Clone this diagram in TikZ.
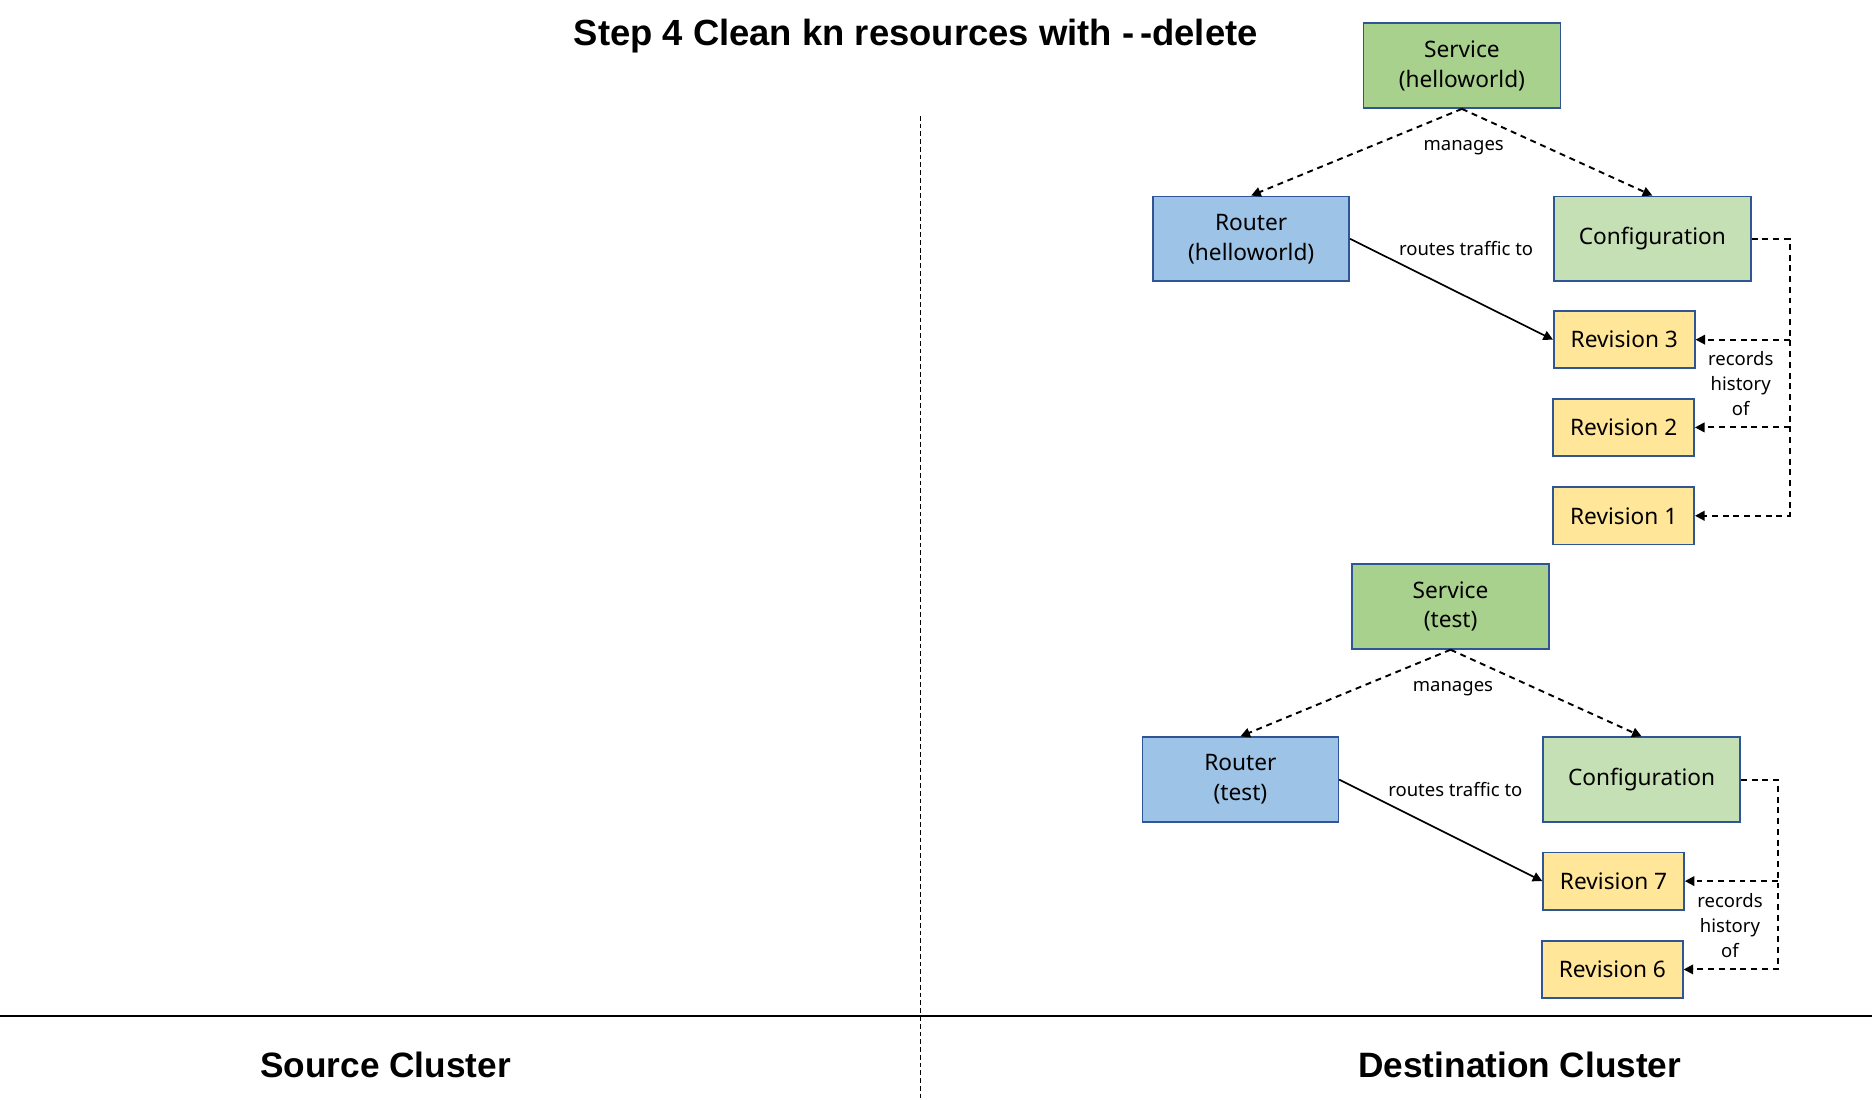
\documentclass[tikz,border=0pt]{standalone}
\usepackage{fontspec}
\setmainfont{Noto Sans}
\newfontfamily\ttlfont{Liberation Sans}
\usetikzlibrary{arrows.meta,calc}
\definecolor{edgeblue}{HTML}{2F5597}
\definecolor{svcgreen}{HTML}{A9D18E}
\definecolor{cfggreen}{HTML}{C5E0B4}
\definecolor{rtblue}{HTML}{9DC3E6}
\definecolor{revyellow}{HTML}{FFE699}
\tikzset{
  box/.style={draw=edgeblue, line width=1.4pt, align=center, inner sep=0pt,
    font=\fontsize{19}{25}\selectfont},
  svc/.style={box, fill=svcgreen, minimum width=165pt, minimum height=71pt},
  rtr/.style={box, fill=rtblue, minimum width=164pt, minimum height=71pt},
  cfg/.style={box, fill=cfggreen, minimum width=165pt, minimum height=71pt},
  rev/.style={box, fill=revyellow, minimum width=118pt, minimum height=48pt},
  lbl/.style={font=\fontsize{15.5}{21}\selectfont, align=center, inner sep=0pt},
  ttl/.style={font=\ttlfont\bfseries\fontsize{30.5}{34}\selectfont, inner sep=0pt},
  clu/.style={font=\ttlfont\bfseries\fontsize{29.5}{34}\selectfont, inner sep=0pt},
  conn/.style={line width=1.4pt, -{Triangle[width=8pt,length=8pt]}},
  dconn/.style={line width=1.6pt, -{Triangle[width=8pt,length=8pt]}, dash pattern=on 5pt off 4pt},
}
\begin{document}
\begin{tikzpicture}[x=1pt,y=-1pt]
\useasboundingbox (0,0) rectangle (1568,921);
% title and frame
\node[ttl] (title) at (767,30) {Step 4 Clean kn resources with {-}\,{-}delete};
\coordinate (vtop) at (771,97);
\coordinate (vbot) at (771,921);
\draw[line width=1pt, dash pattern=on 4pt off 2.5pt] (vtop) -- (vbot);
\coordinate (hl) at (0,851);
\coordinate (hr) at (1568,851);
\draw[line width=1.8pt] (hl) -- (hr);
\node[clu] (src) at (323,892) {Source Cluster};
\node[clu] (dst) at (1273,892) {Destination Cluster};

% top group
\node[svc] (s1) at (1224.5,55) {Service\\(helloworld)};
\node[rtr] (ro1) at (1048,200) {Router\\(helloworld)};
\node[cfg] (c1) at (1384,200) {Configuration};
\node[rev] (r3) at (1360.5,284.5) {Revision 3};
\node[rev] (r2) at (1360,358) {Revision 2};
\node[rev] (r1) at (1360,432) {Revision 1};
\draw[dconn] (s1.south) -- (ro1.north);
\draw[dconn] (s1.south) -- (c1.north);
\node[lbl] (m1) at (1226,124) {manages};
\draw[conn] (ro1.east) -- (r3.west);
\node[lbl] (t1) at (1228,208) {routes traffic to};
\coordinate (bus1) at (1499,0);
\draw[dconn] (c1.east) -- (c1.east -| bus1) |- (r1.east);
\draw[dconn] (r3.east -| bus1) -- (r3.east);
\draw[dconn] (r2.east -| bus1) -- (r2.east);
\node[lbl] (h1) at (1458,321) {records\\history\\of};

% bottom group
\node[svc] (s2) at (1215,508) {Service\\(test)};
\node[rtr] (ro2) at (1039,653) {Router\\(test)};
\node[cfg] (c2) at (1375,653) {Configuration};
\node[rev] (r7) at (1351.5,738) {Revision 7};
\node[rev] (r6) at (1350.5,812) {Revision 6};
\draw[dconn] (s2.south) -- (ro2.north);
\draw[dconn] (s2.south) -- (c2.north);
\node[lbl] (m2) at (1217,577) {manages};
\draw[conn] (ro2.east) -- (r7.west);
\node[lbl] (t2) at (1219,661) {routes traffic to};
\coordinate (bus2) at (1489,0);
\draw[dconn] (c2.east) -- (c2.east -| bus2) |- (r6.east);
\draw[dconn] (r7.east -| bus2) -- (r7.east);
\node[lbl] (h2) at (1449,775) {records\\history\\of};
\end{tikzpicture}
\end{document}
